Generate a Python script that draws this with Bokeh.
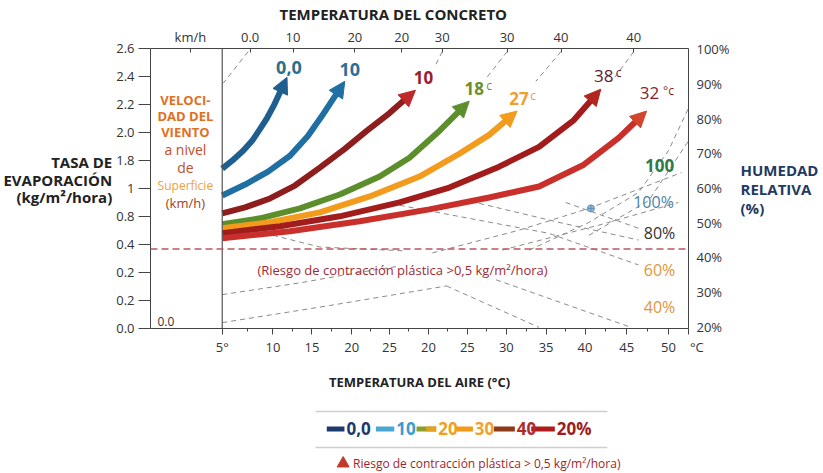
import math
from bokeh.plotting import figure
from bokeh.models import Range1d, LinearAxis, FixedTicker, Label, Arrow, NormalHead, Span
from bokeh.layouts import column
from bokeh.embed import file_html
from bokeh.resources import INLINE
from bokeh.core.properties import value

FONT = "Open Sans"
NB = "\u00a0"

# ---------------- data (axis units) ----------------
air_ticks = [0, 1.29, 2.28, 3.29, 4.25, 5.24, 6.23, 7.22, 8.23, 9.22, 10.28, 11.34, 11.849]
air_labels = ["5°", "10", "15", "20", "25", "20", "25", "30", "35", "40", "45", "50", NB * 5 + "°C"]
concrete_ticks = [-0.81, 0.71, 1.80, 3.37, 4.56, 5.59, 7.24, 8.61, 10.46]
concrete_labels = ["km/h", "0.0", "10", "20", "20", "30", "30", "40", "40"]
evap_ticks = [0, 1, 2, 3, 4, 5, 6, 7, 8, 9, 10]
evap_labels = ["0.0", "0.2", "0.2", "0.4", "0.8", "1", "1.8", "2.0", "2.2", "2.4", "2.6"]
rh_ticks = [20, 30, 40, 50, 60, 70, 80, 90, 100]
rh_labels = ["20%", "30%", "40%", "50%", "60%", "70%", "80%", "90%", "100%"]

# wind / temperature curves
c00_x = [0, 0.253, 0.532, 0.759, 0.962, 1.139, 1.316, 1.646]
c00_y = [5.709, 5.993, 6.348, 6.702, 7.128, 7.518, 7.979, 8.972]
c10b_x = [0, 0.582, 1.165, 1.722, 2.177, 2.532, 3.114]
c10b_y = [4.752, 5.142, 5.603, 6.170, 6.879, 7.589, 8.830]
c10r_x = [0, 0.582, 1.215, 1.848, 2.481, 3.114, 3.671, 4.253, 4.911]
c10r_y = [4.113, 4.326, 4.645, 5.106, 5.745, 6.418, 7.057, 7.695, 8.511]
c18_x = [0, 0.962, 1.975, 2.987, 4.0, 4.759, 5.519, 6.278]
c18_y = [3.723, 3.936, 4.291, 4.787, 5.426, 6.099, 7.057, 8.121]
c27_x = [0, 1.215, 2.481, 3.747, 5.013, 6.025, 6.785, 7.494]
c27_y = [3.582, 3.794, 4.149, 4.716, 5.426, 6.241, 6.915, 7.766]
c38_x = [0, 1.468, 2.987, 4.506, 5.772, 7.038, 8.051, 8.937, 9.620]
c38_y = [3.404, 3.652, 4.007, 4.504, 5.035, 5.780, 6.489, 7.447, 8.546]
c32_x = [0, 1.722, 3.494, 5.266, 6.785, 8.051, 9.190, 10.076, 10.785]
c32_y = [3.227, 3.475, 3.830, 4.255, 4.681, 5.071, 5.851, 6.809, 7.766]

# dashed nomogram guide lines
guide_xs = [
    [0.658, 0.025], [5.59, 5.42], [7.24, 6.71], [8.61, 7.97], [10.46, 9.90],
    [0, 2.73, 5.70], [5.70, 8.05], [0, 1.97, 3.42, 4.51], [6.96, 10.33],
    [4.51, 8.30, 10.58], [6.53, 8.56, 10.58], [8.73, 10.58], [1.29, 2.48, 4.68],
    [5.34, 7.54, 9.32, 11.67], [7.11, 9.57, 11.59],
    [7.80, 9.32, 10.58, 11.34, 11.85], [9.32, 10.84, 11.85],
]
guide_ys = [
    [9.89, 8.76], [9.89, 9.40], [9.89, 8.94], [9.89, 8.83], [9.89, 8.83],
    [0.21, 0.82, 1.52], [1.52, 0.04], [1.21, 1.63, 1.99, 2.23], [1.74, 0.07],
    [4.40, 3.40, 2.27], [4.47, 3.79, 3.16], [4.50, 3.58], [3.33, 2.91, 2.77],
    [2.70, 3.51, 4.29, 5.57], [2.80, 3.69, 4.50],
    [2.80, 3.79, 4.86, 6.35, 7.87], [3.33, 4.57, 6.70],
]
marker_x = [9.37]
marker_y = [4.29]
risk_level = 2.84

# ---------------- layout helpers ----------------
SX = 39.5   # px per x unit
SY = 28.2   # px per y unit
def X(px):
    return (px - 222) / SX
def Y(py):
    return (329 - py) / SY

p = figure(width=821, height=395, x_range=Range1d(-1.823, 11.85), y_range=Range1d(0, 10.001),
           output_backend="svg", toolbar_location=None, title="TEMPERATURA DEL CONCRETO",
           min_border_left=149, min_border_right=132, min_border_top=46, min_border_bottom=67)
p.outline_line_color = None
p.xgrid.visible = False
p.ygrid.visible = False
p.background_fill_color = "white"
p.title.align = "left"
p.title.offset = 129
p.title.text_font = FONT
p.title.text_font_size = "15px"
p.title.text_font_style = "bold"
p.title.text_color = "#222222"
p.title.standoff = 2

AX = "#444444"
LAB = "#333333"

def horizontal(axis):
    try:
        axis.axis_label_orientation = "horizontal"
    except Exception:
        pass

# bottom axis
xa = p.xaxis[0]
xa.ticker = FixedTicker(ticks=air_ticks,
                        minor_ticks=[(a + b) / 2 for a, b in zip(air_ticks[:-2], air_ticks[1:-1])])
xa.major_label_overrides = {t: l for t, l in zip(air_ticks, air_labels)}
xa.major_tick_out = 6
xa.major_tick_in = 0
xa.minor_tick_out = 3
xa.minor_tick_in = 0
xa.axis_line_color = AX
xa.major_tick_line_color = AX
xa.minor_tick_line_color = AX
xa.major_label_text_font = FONT
xa.major_label_text_font_size = "13px"
xa.major_label_text_color = LAB
xa.major_label_standoff = 3
xa.axis_label = "TEMPERATURA DEL AIRE (°C)"
xa.axis_label_text_font = FONT
xa.axis_label_text_font_style = "bold"
xa.axis_label_text_font_size = "13px"
xa.axis_label_text_color = "#222222"
xa.axis_label_standoff = 14

# left axis
ya = p.yaxis[0]
ya.ticker = FixedTicker(ticks=evap_ticks)
ya.major_label_overrides = {t: l for t, l in zip(evap_ticks, evap_labels)}
ya.major_tick_out = 12
ya.major_tick_in = 0
ya.minor_tick_line_color = None
ya.axis_line_color = AX
ya.major_tick_line_color = AX
ya.major_label_text_font = FONT
ya.major_label_text_font_size = "13px"
ya.major_label_text_color = LAB
ya.major_label_standoff = 4
ya.axis_label = "TASA DE\nEVAPORACIÓN\n(kg/m²/hora)\n" + NB
ya.axis_label_text_font = FONT
ya.axis_label_text_font_style = "bold"
ya.axis_label_text_font_size = "15px"
ya.axis_label_text_line_height = 0.88
ya.axis_label_text_color = "#222222"
ya.axis_label_text_align = "right"
ya.axis_label_standoff = 1
horizontal(ya)

# top axis (concrete temperature)
top = LinearAxis(ticker=FixedTicker(ticks=concrete_ticks),
                 major_label_overrides={t: l for t, l in zip(concrete_ticks, concrete_labels)},
                 major_tick_in=4, major_tick_out=0, minor_tick_line_color=None,
                 axis_line_color=AX, major_tick_line_color=AX,
                 major_label_text_font=FONT, major_label_text_font_size="13px",
                 major_label_text_color=LAB, major_label_standoff=3)
p.add_layout(top, "above")

# right axis (relative humidity)
p.extra_y_ranges = {"rh": Range1d(19.4265, 100.287)}
right = LinearAxis(y_range_name="rh", ticker=FixedTicker(ticks=rh_ticks),
                   major_label_overrides={t: l for t, l in zip(rh_ticks, rh_labels)},
                   major_tick_in=0, major_tick_out=0, minor_tick_line_color=None,
                   axis_line_color=AX, major_label_text_font=FONT,
                   major_label_text_font_size="13px", major_label_text_color=LAB,
                   major_label_standoff=8,
                   axis_label="HUMEDAD\nRELATIVA\n(%)", axis_label_text_font=FONT,
                   axis_label_text_font_style="bold", axis_label_text_font_size="15px",
                   axis_label_text_line_height=0.95,
                   axis_label_text_color="#1f3b63", axis_label_standoff=8)
horizontal(right)
p.add_layout(right, "right")

# panel separator and risk line
p.add_layout(Span(location=0, dimension="height", line_color="#555555", line_width=1.2))
p.add_layout(Span(location=risk_level, dimension="width", line_color="#b8585e",
                  line_dash="7 4", line_width=1.6))

# guide lines
p.multi_line(xs=guide_xs, ys=guide_ys, line_color="#8a8a8a", line_dash="5 4", line_width=1)
p.scatter(marker_x, marker_y, marker="circle_cross", size=7, fill_color="#9db9d3",
          line_color="#5b8fb9")

# curves
curves = [
    (c00_x, c00_y, "#1e5f8f", "#1e5f8f"),
    (c10b_x, c10b_y, "#1f6fa3", "#1f6fa3"),
    (c10r_x, c10r_y, "#8e1d1d", "#c0282a"),
    (c18_x, c18_y, "#5c8f2c", "#5c8f2c"),
    (c27_x, c27_y, "#f29b1c", "#f29b1c"),
    (c38_x, c38_y, "#a31c1c", "#b3261e"),
    (c32_x, c32_y, "#c9302c", "#d2452c"),
]
for xs, ys, col, hcol in curves:
    dxp = (xs[-1] - xs[-2]) * SX
    dyp = (ys[-1] - ys[-2]) * SY
    L = math.hypot(dxp, dyp)
    f = min(10.0, 0.6 * L) / L
    lx = xs[:-1] + [xs[-1] - (xs[-1] - xs[-2]) * f]
    ly = ys[:-1] + [ys[-1] - (ys[-1] - ys[-2]) * f]
    p.line(lx, ly, line_color=col, line_width=6, line_join="round")
    p.add_layout(Arrow(end=NormalHead(size=16, fill_color=hcol, line_color=hcol),
                       x_start=xs[-2], y_start=ys[-2], x_end=xs[-1], y_end=ys[-1],
                       line_alpha=0))

def lab(px, py, text, size=13, color=LAB, style="normal", align="center"):
    p.add_layout(Label(x=X(px), y=Y(py), text=text, text_font=FONT, text_font_size=f"{size}px",
                       text_color=color, text_font_style=style, text_align=align,
                       text_baseline="middle"))

# curve labels
lab(289, 66, "0,0", 18, "#2b6f8e", "bold")
lab(350, 68, "10", 18, "#2b7099", "bold")
lab(424, 76, "10", 17, "#9b1b30", "bold")
lab(475, 87, "18", 17, "#6a8f2e", "bold")
lab(490, 84, "c", 12, "#6a8f2e")
lab(520, 97, "27", 17, "#f0a030", "bold")
lab(534, 94, "c", 12, "#f0a030")
lab(605, 75, "38", 17, "#5a1a30")
lab(620, 71, "c", 12, "#5a1a30")
lab(651, 92, "32", 17, "#8b1a2a")
lab(670, 89, "°c", 12, "#8b1a2a")

# humidity labels
lab(661, 165, "100", 17, "#2e7a4a", "bold")
lab(655, 202, "100%", 16, "#4a7fa8")
lab(661, 233, "80%", 16, "#333333")
lab(661, 270, "60%", 16, "#e0963a")
lab(661, 307, "40%", 16, "#e0963a")

lab(403, 270, "(Riesgo de contracción plástica >0,5 kg/m²/hora)", 13, "#9e2a36")

# left panel
lab(185, 99, "VELOCI-", 13, "#e07020", "bold")
lab(185, 115, "DAD DEL", 13, "#e07020", "bold")
lab(185, 131, "VIENTO", 13, "#e07020", "bold")
lab(185, 149, "a nivel", 14, "#c0502a")
lab(185, 167, "de", 14, "#c0502a")
lab(185, 185, "Superficie", 12, "#f0a040")
lab(185, 203, "(km/h)", 13, "#a04020")
lab(157, 322, "0.0", 12, LAB, align="left")

# ---------------- legend strip (page pixel coordinates) ----------------
lf = figure(width=821, height=76, x_range=Range1d(1, 822), y_range=Range1d(-472, -396),
            output_backend="svg", toolbar_location=None, min_border=0)
lf.axis.visible = False
lf.xgrid.visible = False
lf.ygrid.visible = False
lf.outline_line_color = None

legend_text = ["0,0", "10", "20", "30", "40", "20%"]
bar_left = [270, 345, 407, 467, 525, 582]
bar_right = [297, 373, 437, 493, 557, 618]
bar_color = ["#1b3a6b", "#4aa6d2", "#8aa02a", "#f39a1a", "#8b3a1a", "#b01c1c"]
text_color = ["#1b3a6b", "#3b9bd0", "#f0a020", "#f0a030", "#b02a2a", "#a01c1c"]

lf.segment(x0=[253, 253], y0=[-412, -448], x1=[698, 698], y1=[-412, -448],
           line_color="#cfcfcf", line_width=1.5)
lf.quad(left=bar_left, right=bar_right, bottom=[-432] * 6, top=[-427] * 6,
        fill_color=bar_color, line_color=None)
lf.quad(left=[422], right=[437], bottom=[-432], top=[-427], fill_color="#e8a020", line_color=None)
lf.text(x=[r + 3 for r in bar_right], y=[-429] * 6, text=legend_text, text_font=value(FONT),
        text_font_style="bold", text_font_size="17px", text_color=text_color, text_baseline="middle")
lf.scatter([295], [-464], marker="triangle", size=12, fill_color="#c0392b", line_color="#c0392b")
lf.text(x=[310], y=[-464], text=["Riesgo de contracción plástica > 0,5 kg/m²/hora)"],
        text_font=value(FONT), text_font_size="12px", text_color="#a01e2a", text_baseline="middle")

layout = column(p, lf, spacing=0)
open("out.html", "w").write(file_html(layout, INLINE))
